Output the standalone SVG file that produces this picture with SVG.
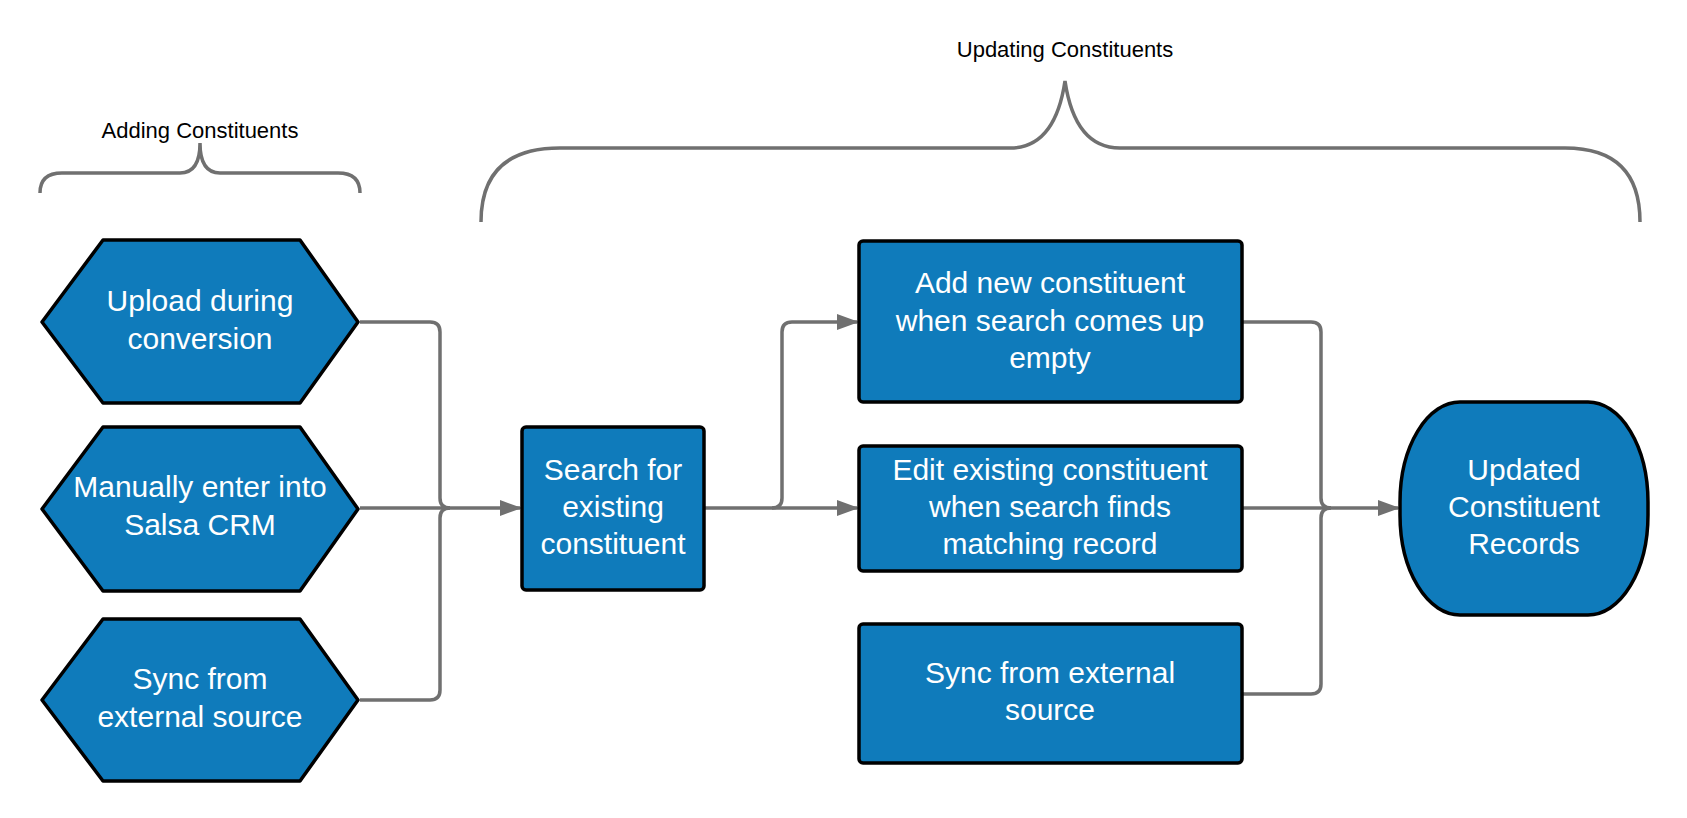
<svg xmlns="http://www.w3.org/2000/svg" width="1687" height="818" viewBox="0 0 1687 818">
<style>
.n{fill:#0f7bbb;stroke:#000;stroke-width:3.5;stroke-linejoin:round}
.t{font-family:"Liberation Sans",Arial,sans-serif;font-size:30px;fill:#fff;text-anchor:middle}
.l{font-family:"Liberation Sans",Arial,sans-serif;font-size:22px;fill:#000;text-anchor:middle}
.c{fill:none;stroke:#707070;stroke-width:3.5}
</style>
<defs><marker id="a" markerWidth="22" markerHeight="16" refX="20" refY="8" orient="auto" markerUnits="userSpaceOnUse" viewBox="0 0 22 16"><path d="M0,0L22,8L0,16z" fill="#707070"/></marker></defs>
<rect width="1687" height="818" fill="#fff"/>
<g id="braces">
<path class="c" d="M40,193 Q40,173 62,173 L180,173 Q200,173 200,143 Q200,173 220,173 L338,173 Q360,173 360,193"/>
<path class="c" d="M481,222 Q481,148 560,148 L1010,148 Q1055,148 1065,81 Q1075,148 1120,148 L1565,148 Q1640,148 1640,222"/>
<text class="l" x="200" y="138">Adding Constituents</text>
<text class="l" x="1065" y="57">Updating Constituents</text>
</g>
<g id="connectors">
<path class="c" d="M360,322 L430,322 Q440,322 440,332 L440,498 Q440,508 450,508"/>
<path class="c" d="M360,700 L430,700 Q440,700 440,690 L440,518 Q440,508 450,508"/>
<path class="c" d="M360,508 L520,508" marker-end="url(#a)"/>
<path class="c" d="M704,508 L772,508 Q782,508 782,498 L782,332 Q782,322 792,322 L857,322" marker-end="url(#a)"/>
<path class="c" d="M772,508 L857,508" marker-end="url(#a)"/>
<path class="c" d="M1242,322 L1311,322 Q1321,322 1321,332 L1321,498 Q1321,508 1331,508"/>
<path class="c" d="M1242,694 L1311,694 Q1321,694 1321,684 L1321,518 Q1321,508 1331,508"/>
<path class="c" d="M1242,508 L1398,508" marker-end="url(#a)"/>
</g>
<g id="n1"><path class="n" d="M103,240 L300,240 L358,322 L300,403 L103,403 L42,322 Z"/><text class="t" x="200" y="311">Upload during</text><text class="t" x="200" y="349">conversion</text></g>
<g id="n2"><path class="n" d="M103,427 L300,427 L358,509 L300,591 L103,591 L42,509 Z"/><text class="t" x="200" y="497">Manually enter into</text><text class="t" x="200" y="535">Salsa CRM</text></g>
<g id="n3"><path class="n" d="M103,619 L300,619 L358,700 L300,781 L103,781 L42,700 Z"/><text class="t" x="200" y="689">Sync from</text><text class="t" x="200" y="727">external source</text></g>
<g id="n4"><rect class="n" x="522" y="427" width="182" height="163" rx="4"/><text class="t" x="613" y="480">Search for</text><text class="t" x="613" y="517">existing</text><text class="t" x="613" y="554">constituent</text></g>
<g id="n5"><rect class="n" x="859" y="241" width="383" height="161" rx="4"/><text class="t" x="1050" y="293">Add new constituent</text><text class="t" x="1050" y="331">when search comes up</text><text class="t" x="1050" y="368">empty</text></g>
<g id="n6"><rect class="n" x="859" y="446" width="383" height="125" rx="4"/><text class="t" x="1050" y="480">Edit existing constituent</text><text class="t" x="1050" y="517">when search finds</text><text class="t" x="1050" y="554">matching record</text></g>
<g id="n7"><rect class="n" x="859" y="624" width="383" height="139" rx="4"/><text class="t" x="1050" y="683">Sync from external</text><text class="t" x="1050" y="720">source</text></g>
<g id="n8"><rect class="n" x="1400" y="402" width="248" height="213" rx="60" ry="100"/><text class="t" x="1524" y="480">Updated</text><text class="t" x="1524" y="517">Constituent</text><text class="t" x="1524" y="554">Records</text></g>
</svg>
